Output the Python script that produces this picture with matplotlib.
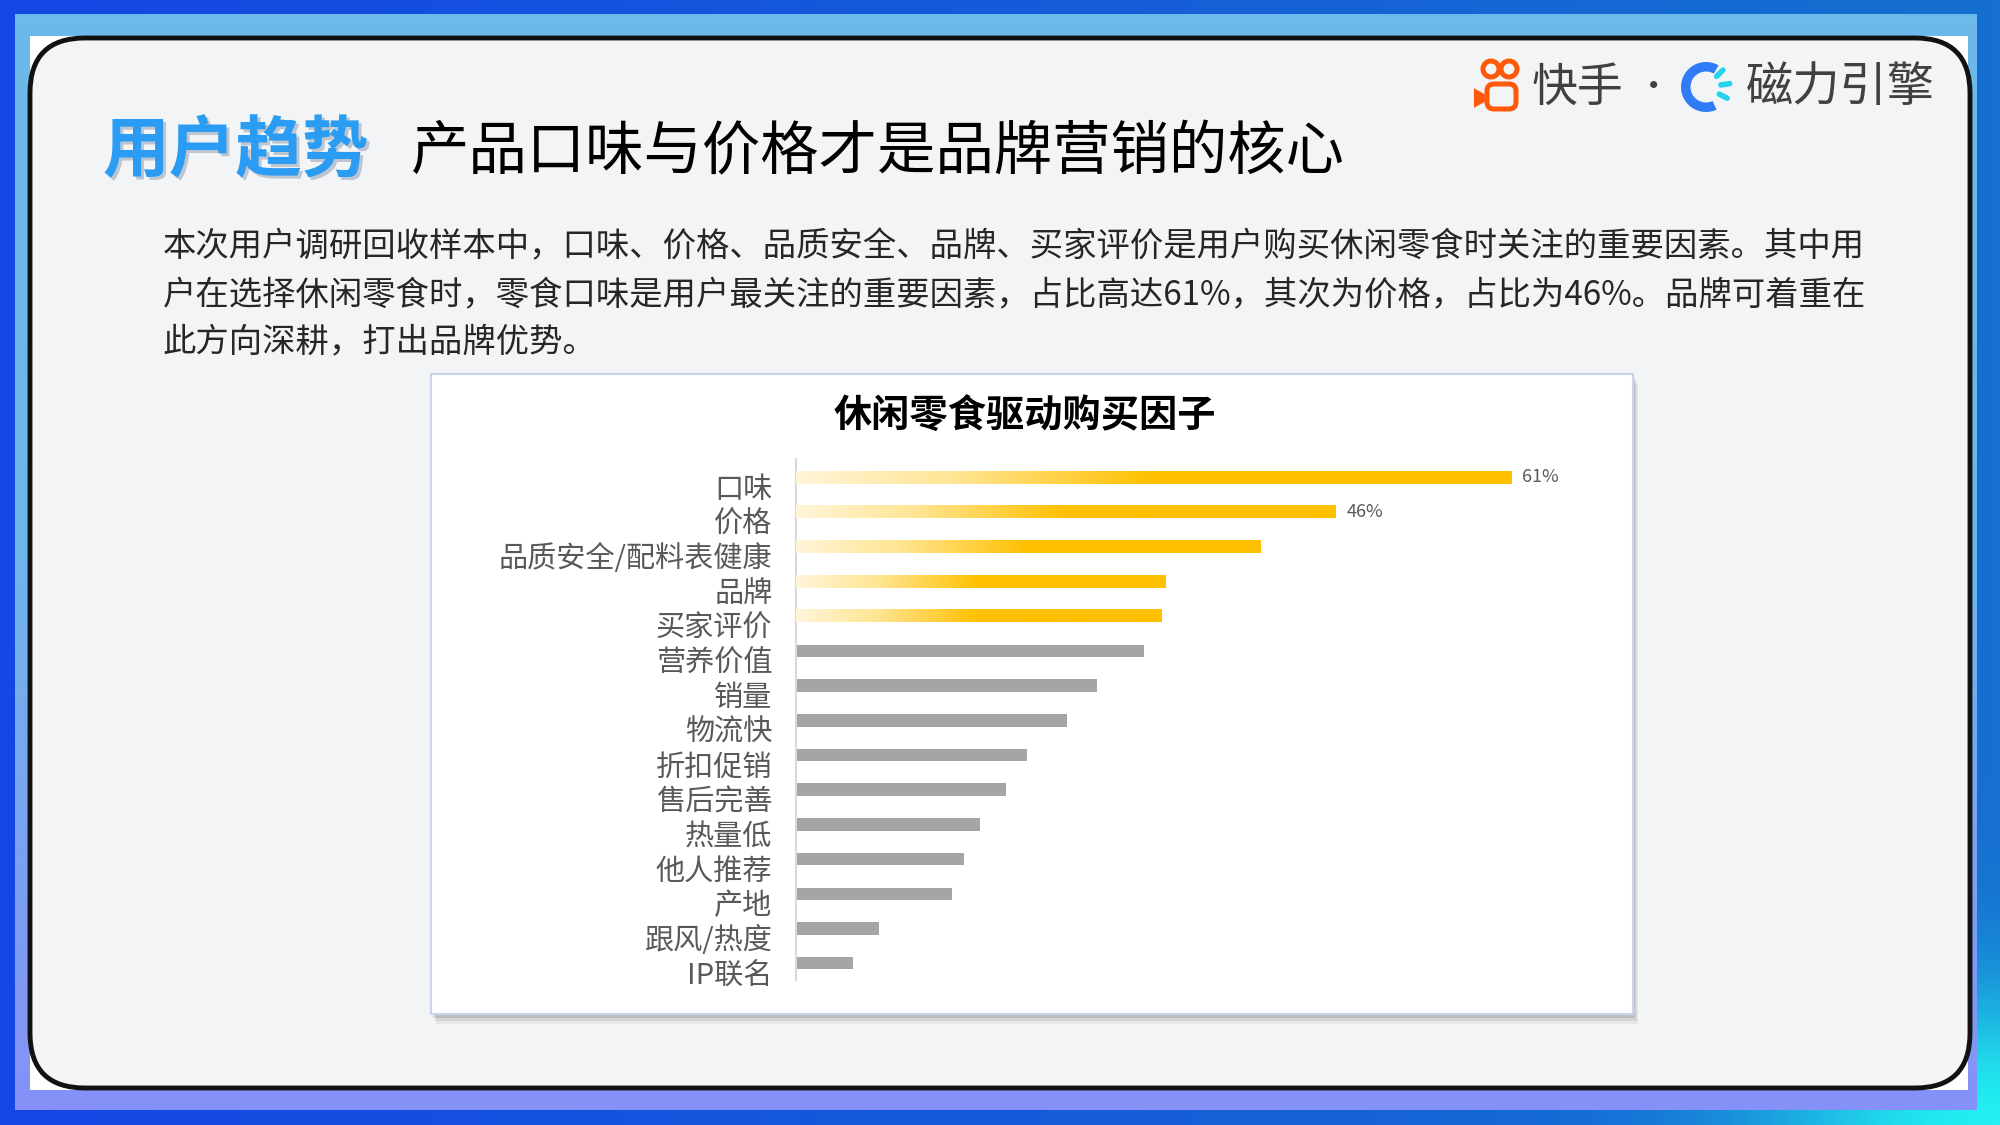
import numpy as np
import matplotlib.pyplot as plt
import matplotlib.transforms as mtransforms
from matplotlib.colors import LinearSegmentedColormap, to_rgb
from matplotlib.patches import Rectangle, FancyBboxPatch, Circle, Wedge, Polygon

plt.rcParams['font.family'] = ['Noto Sans CJK SC', 'DejaVu Sans']

# ---- data ----
factors = ['口味', '价格', '品质安全/配料表健康', '品牌', '买家评价', '营养价值', '销量',
           '物流快', '折扣促销', '售后完善', '热量低', '他人推荐', '产地', '跟风/热度', 'IP联名']
shares = [61, 46, 39.6, 31.5, 31.2, 29.7, 25.7, 23.1, 19.7, 17.9, 15.7, 14.3, 13.3, 7.1, 4.9]
value_labels = ['61%', '46%'] + [''] * 13
n_highlight = 5

chart_title = '休闲零食驱动购买因子'
tag = '用户趋势'
headline = '产品口味与价格才是品牌营销的核心'
para_lines = [
    '本次用户调研回收样本中，口味、价格、品质安全、品牌、买家评价是用户购买休闲零食时关注的重要因素。其中用',
    '户在选择休闲零食时，零食口味是用户最关注的重要因素，占比高达61%，其次为价格，占比为46%。品牌可着重在',
    '此方向深耕，打出品牌优势。',
]

fig = plt.figure(figsize=(20, 11.25), dpi=100)

# background layer in pixel coordinates
bg = fig.add_axes([0, 0, 1, 1])
bg.axis('off')

# outer blue frame with cyan glow bottom right
xx, yy = np.meshgrid(np.linspace(0, 1, 400), np.linspace(0, 1, 225))
c1, c2, cy = np.array(to_rgb('#1446E4')), np.array(to_rgb('#1670D0')), np.array(to_rgb('#22F0F2'))
img = c1[None, None, :] * (1 - xx[..., None]) + c2[None, None, :] * xx[..., None]
glow = np.exp(-(((xx - 1) / 0.12) ** 2 + ((yy - 1) / 0.12) ** 2))
img = img * (1 - glow[..., None]) + cy[None, None, :] * glow[..., None]
bg.imshow(img, extent=(0, 2000, 1125, 0), aspect='auto', zorder=0)

# light band (blue on top, lavender at bottom)
band = LinearSegmentedColormap.from_list('band', ['#6CBAE9', '#6FB5EC', '#8591F7'])
bg.imshow(np.linspace(0, 1, 200).reshape(-1, 1), extent=(15, 1977, 1110, 14), cmap=band,
          aspect='auto', zorder=1)
bg.add_patch(Rectangle((30, 36), 1938, 1054, fc='white', ec='none', zorder=2))

# main rounded panel
bg.add_patch(FancyBboxPatch((30, 38), 1940, 1050, boxstyle='round,pad=0,rounding_size=55',
                            fc='#F3F4F5', ec='#111111', lw=3.5, zorder=3))
bg.set_xlim(0, 2000)
bg.set_ylim(1125, 0)

# header
bg.text(105, 155, tag, fontsize=48, fontweight='bold', color='#9AA6B8', alpha=0.6,
        va='center', ha='left', zorder=4)
bg.text(102, 152, tag, fontsize=48, fontweight='bold', color='#2A9CF3',
        va='center', ha='left', zorder=5)
bg.text(411, 153, headline, fontsize=42, color='black', va='center', ha='left', zorder=5)

for k, line in enumerate(para_lines):
    bg.text(163, 247 + 47.5 * k, line, fontsize=24, color='#262626', va='center', ha='left', zorder=5)

# logos: kuaishou
ks = '#FF5A0A'
bg.add_patch(Circle((1491, 69), 8, fill=False, ec=ks, lw=3.6, zorder=5))
bg.add_patch(Circle((1509, 69), 8, fill=False, ec=ks, lw=3.6, zorder=5))
bg.add_patch(FancyBboxPatch((1487, 84), 29, 25, boxstyle='round,pad=0,rounding_size=7',
                            fill=False, ec=ks, lw=3.6, zorder=5))
bg.add_patch(Polygon([(1475, 90), (1486, 96), (1486, 100), (1475, 106)], closed=True,
                     fc=ks, ec=ks, lw=1.5, zorder=5))
bg.text(1532, 88, '快手', fontsize=33, color='#404040', va='center', ha='left', zorder=5)
bg.text(1654, 88, '·', fontsize=24, color='#404040', va='center', ha='center', zorder=5)
# logos: cili engine
bg.add_patch(Wedge((1706, 87), 25, 65, 300, width=9.5, fc='#2F7CF6', ec='none', zorder=5))
for ang in (45, 8, -28):
    a = np.deg2rad(ang)
    bg.plot([1706 + 15 * np.cos(a), 1706 + 24 * np.cos(a)],
            [87 - 15 * np.sin(a), 87 - 24 * np.sin(a)],
            color='#27D3EC', lw=4, solid_capstyle='round', zorder=5)
bg.text(1746, 88, '磁力引擎', fontsize=34, color='#404040', va='center', ha='left', zorder=5)

# chart card
for off, al in ((10, 0.08), (7, 0.12), (4, 0.18)):
    bg.add_patch(Rectangle((431 + off / 2, 374 + off), 1202, 640, fc='#555555', alpha=al,
                           ec='none', zorder=4))
bg.add_patch(Rectangle((431, 374), 1202, 640, fc='white', ec='#C8D5EC', lw=1.5, zorder=5))
bg.text(1025, 416, chart_title, fontsize=27.5, fontweight='bold', color='black',
        ha='center', va='center', zorder=6)

# ---- bar chart ----
x0, x1, ytop, ybot = 796, 1560, 459, 980
px_per_pct = 11.725
ax = fig.add_axes([x0 / 2000, 1 - ybot / 1125, (x1 - x0) / 2000, (ybot - ytop) / 1125])
ax.patch.set_alpha(0)
ax.set_zorder(10)

ypos = np.arange(len(factors))
colors = ['#FFC000' if i < n_highlight else '#A5A5A5' for i in ypos]
h = 0.36
bars = ax.barh(ypos, shares, height=h, color=colors, zorder=2)

gold = LinearSegmentedColormap.from_list('gold', [(0, '#FFF5D8'), (0.22, '#FFE594'),
                                                  (0.5, '#FFC000'), (1, '#FFC000')])
grad = np.linspace(0, 1, 256).reshape(1, -1)
for i in range(n_highlight):
    ax.imshow(grad, extent=(0, shares[i], i + h / 2, i - h / 2), cmap=gold, aspect='auto',
              zorder=3, interpolation='bilinear')

for i, (v, lab) in enumerate(zip(shares, value_labels)):
    if lab:
        ax.text(v + 11 / px_per_pct, i, lab, va='center', ha='left', fontsize=13, color='#595959')

ax.set_xlim(0, (x1 - x0) / px_per_pct)
ax.set_ylim((ybot - 477.4) / 34.7, (ytop - 477.4) / 34.7)
ax.set_xticks([])
ax.set_yticks(ypos)
ax.set_yticklabels(factors, fontsize=21, color='#595959')
ax.tick_params(axis='y', length=0, pad=17)
for s in ('top', 'right', 'bottom'):
    ax.spines[s].set_visible(False)
ax.spines['left'].set_color('#D9D9D9')
ax.spines['left'].set_linewidth(1.5)

shift = mtransforms.ScaledTranslation(0, -9 / 100, fig.dpi_scale_trans)
for lab in ax.get_yticklabels():
    lab.set_transform(lab.get_transform() + shift)

fig.savefig('out.png', dpi=100)
